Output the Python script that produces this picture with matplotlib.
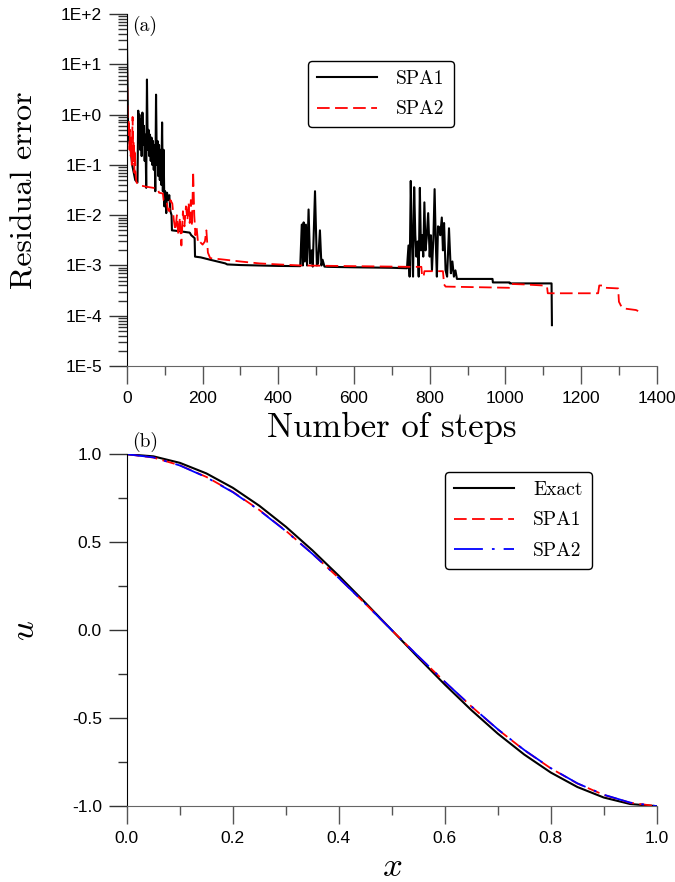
import numpy as np
import matplotlib
matplotlib.use("Agg")
import matplotlib.pyplot as plt
from matplotlib.ticker import MultipleLocator, FuncFormatter, FixedLocator, NullFormatter

# (a) residual error vs number of steps
steps1 = [0, 3, 6, 10, 14, 18, 22, 28, 30, 31, 33, 35, 37, 39, 41, 43, 45, 47, 49, 51,
          53, 55, 57, 59, 61, 63, 65, 67, 69, 71, 73, 75, 77, 79, 81, 83, 85, 87, 89, 91,
          93, 95, 97, 99, 101, 104, 106, 109, 112, 115, 118, 119, 140, 166, 170, 179, 180,
          195, 220, 260, 265, 300, 400, 458, 462, 465, 467, 470, 473, 476, 480, 484, 488,
          491, 497, 502, 505, 510, 514, 517, 522, 530, 600, 700, 740, 744, 747, 750, 753,
          756, 759, 762, 765, 768, 771, 774, 777, 780, 783, 786, 789, 792, 796, 800, 803,
          806, 810, 813, 816, 819, 822, 825, 828, 832, 835, 838, 842, 846, 851, 856, 860,
          864, 868, 872, 966, 967, 1011, 1012, 1122, 1123]
spa1 = [40, 0.6, 0.3, 0.2, 0.1, 0.07, 0.05, 0.045, 1.2, 0.3, 1.0, 0.2, 0.8, 0.15, 1.1, 0.25, 0.6, 0.12, 0.4, 0.035,
        5.0, 0.2, 0.5, 0.15, 0.4, 0.12, 0.35, 0.1, 0.3, 0.08, 0.25, 0.03, 2.5, 0.1, 0.3, 0.06, 0.25, 0.05, 0.2, 0.04,
        0.7, 0.03, 0.2, 0.015, 0.03, 0.011, 0.028, 0.02, 0.025, 0.012, 0.01, 0.005, 0.0048, 0.0045, 0.004, 0.0035, 0.0015,
        0.00145, 0.0013, 0.0011, 0.00105, 0.00102, 0.00098, 0.00097, 0.0065, 0.001, 0.0072, 0.0012, 0.0065, 0.001, 0.013, 0.0011, 0.002,
        0.00095, 0.03, 0.001, 0.0011, 0.005, 0.001, 0.0013, 0.00095, 0.00094, 0.00092, 0.0009, 0.00088, 0.0025, 0.0006, 0.048, 0.003,
        0.0006, 0.036, 0.004, 0.0015, 0.003, 0.0006, 0.035, 0.002, 0.004, 0.0015, 0.018, 0.002, 0.0035, 0.011, 0.0015, 0.004,
        0.0008, 0.004, 0.033, 0.003, 0.0006, 0.006, 0.0058, 0.004, 0.009, 0.002, 0.007, 0.0008, 0.0006, 0.0055, 0.0007, 0.0012,
        0.0006, 0.0008, 0.00054, 0.00054, 0.00046, 0.00046, 0.00044, 0.00044, 6.5e-5]

steps2 = [0, 1, 2, 4, 5, 7, 8, 10, 11, 13, 15, 17, 18, 20, 21, 23, 25, 30, 50, 70, 82, 85, 95, 97,
          105, 108, 112, 115, 120, 124, 128, 132, 136, 140, 144, 148, 152, 156, 160, 163, 166,
          169, 172, 175, 178, 181, 184, 188, 192, 200, 206, 210, 214, 220, 260, 300, 350, 400,
          460, 600, 700, 745, 778, 780, 784, 786, 835, 838, 842, 1010, 1012, 1050, 1100, 1110,
          1112, 1245, 1248, 1262, 1265, 1298, 1300, 1305, 1312, 1345, 1355, 1357]
spa2 = [42, 3, 0.6, 0.35, 0.8, 0.2, 0.5, 0.15, 0.35, 0.1, 0.9, 0.12, 0.3, 0.07, 0.2, 0.065, 0.046, 0.04, 0.037, 0.035, 0.033, 0.028, 0.027, 0.02,
        0.02, 0.013, 0.012, 0.02, 0.017, 0.008, 0.005, 0.01, 0.004, 0.009, 0.0025, 0.012, 0.006, 0.015, 0.008, 0.018, 0.007,
        0.02, 0.006, 0.075, 0.01, 0.004, 0.006, 0.0028, 0.003, 0.0026, 0.003, 0.005, 0.0018, 0.0014, 0.0013, 0.0012, 0.0011, 0.00105,
        0.001, 0.00097, 0.00095, 0.00094, 0.00094, 0.0006, 0.0006, 0.00077, 0.00077, 0.00042, 0.00038, 0.00036, 0.00043, 0.00042, 0.0004, 0.00038,
        0.00028, 0.00028, 0.0004, 0.0004, 0.00036, 0.00035, 0.00019, 0.00016, 0.00014, 0.00013, 0.00012, 0.00011]

# (b) solution profiles
xs = [0.0, 0.05, 0.1, 0.15, 0.2, 0.25, 0.3, 0.35, 0.4, 0.45, 0.5,
      0.55, 0.6, 0.65, 0.7, 0.75, 0.8, 0.85, 0.9, 0.95, 1.0]
u_exact = [1.0, 0.988, 0.951, 0.891, 0.809, 0.707, 0.588, 0.454, 0.309, 0.156, 0.0,
           -0.156, -0.309, -0.454, -0.588, -0.707, -0.809, -0.891, -0.951, -0.988, -1.0]
u_spa1 = [1.0, 0.981, 0.937, 0.871, 0.786, 0.683, 0.565, 0.435, 0.296, 0.150, 0.0,
          -0.149, -0.294, -0.433, -0.564, -0.682, -0.785, -0.871, -0.936, -0.981, -1.0]
u_spa2 = [1.0, 0.982, 0.936, 0.869, 0.784, 0.681, 0.563, 0.434, 0.296, 0.150, 0.0,
          -0.148, -0.293, -0.432, -0.563, -0.681, -0.784, -0.870, -0.935, -0.980, -1.0]

fig = plt.figure(figsize=(6.75, 8.82), dpi=100)
ax1 = fig.add_axes([0.188, 0.585, 0.785, 0.399])
ax2 = fig.add_axes([0.188, 0.086, 0.785, 0.399])

tickfont = 'Liberation Sans'
labfont = 'cmr10'
decades = [10.0 ** e for e in range(-5, 3)]
minor_locs = [m * d for d in decades[:-1] for m in range(2, 10)]

# top panel
ax1.set_yscale('log')
ax1.plot(steps1, spa1, color='black', lw=1.5, label='SPA1')
ax1.plot(steps2, spa2, color='red', lw=1.3, dashes=(7, 3), label='SPA2')
ax1.set_ylim(1e-5, 1e2)
ax1.set_xlim(0, 1400)
ax1.yaxis.set_major_locator(FixedLocator(decades))
ax1.yaxis.set_minor_locator(FixedLocator(minor_locs))
ax1.yaxis.set_minor_formatter(NullFormatter())
ax1.yaxis.set_major_formatter(FuncFormatter(lambda v, p: "1E%+d" % int(round(np.log10(v)))))
ax1.xaxis.set_major_locator(MultipleLocator(200))
ax1.xaxis.set_minor_locator(MultipleLocator(100))

# bottom panel
ax2.plot(xs, u_exact, color='black', lw=1.5, label='Exact')
ax2.plot(xs, u_spa1, color='red', lw=1.3, dashes=(7, 3), label='SPA1')
ax2.plot(xs, u_spa2, color='blue', lw=1.3, dashes=(16, 5, 1.5, 5), label='SPA2')
ax2.set_xlim(0, 1.0)
ax2.set_ylim(-1.0, 1.0)
ax2.xaxis.set_major_locator(MultipleLocator(0.2))
ax2.xaxis.set_minor_locator(MultipleLocator(0.1))
ax2.yaxis.set_major_locator(MultipleLocator(0.5))
ax2.yaxis.set_minor_locator(MultipleLocator(0.25))
ax2.xaxis.set_major_formatter(FuncFormatter(lambda v, p: "%.1f" % v))
ax2.yaxis.set_major_formatter(FuncFormatter(lambda v, p: "%.1f" % v))

for ax in (ax1, ax2):
    ax.spines['top'].set_visible(False)
    ax.spines['right'].set_visible(False)
    ax.spines['bottom'].set_color('#666666')
    ax.tick_params(axis='both', which='minor', direction='out', length=6.5, width=1)
    ax.tick_params(axis='both', which='major', direction='out', length=13, width=1,
                   labelsize=12.5, pad=5)
    ax.tick_params(axis='x', which='both', color='#555555')
    ax.tick_params(axis='y', which='both', color='#333333')

ax1.set_ylabel('Residual error', family=labfont, fontsize=23, labelpad=16)
ax1.set_xlabel('Number of steps', family=labfont, fontsize=25, labelpad=4)
ax1.text(0.01, 0.995, '(a)', transform=ax1.transAxes, family=labfont, fontsize=14,
         va='top', ha='left')
leg1 = ax1.legend(loc='upper left', bbox_to_anchor=(0.3415, 0.8665), prop={'family': labfont, 'size': 14},
                  handlelength=3.1, frameon=True, fancybox=True, borderaxespad=0,
                  borderpad=0.45, labelspacing=0.65, handletextpad=1.0)

ax2.set_ylabel(r'$u$', fontsize=25, labelpad=22, rotation=90, math_fontfamily='cm')
ax2.set_xlabel(r'$x$', fontsize=25, labelpad=2, math_fontfamily='cm')
ax2.text(0.01, 1.005, '(b)', transform=ax2.transAxes, family=labfont, fontsize=14,
         va='bottom', ha='left')
leg2 = ax2.legend(loc='upper left', bbox_to_anchor=(0.600, 0.949), prop={'family': labfont, 'size': 14},
                  handlelength=3.1, frameon=True, fancybox=True, borderaxespad=0,
                  borderpad=0.45, labelspacing=0.65, handletextpad=1.0)

for leg in (leg1, leg2):
    leg.get_frame().set_edgecolor('black')
    leg.get_frame().set_linewidth(1.0)
    leg.get_frame().set_alpha(1)

for ax in (ax1, ax2):
    for lab in ax.get_xticklabels() + ax.get_yticklabels():
        lab.set_family(tickfont)

plt.savefig('out.png', dpi=100)
